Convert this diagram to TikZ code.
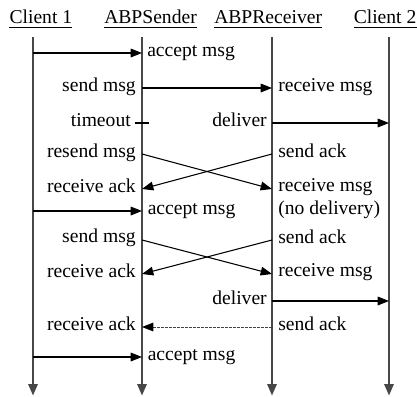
\documentclass[tikz,border=0pt]{standalone}
\usepackage{fontspec}
\setmainfont{Liberation Serif}
\newfontfamily\diagfont{Liberation Serif}
\usetikzlibrary{arrows.meta}
\begin{document}
\begin{tikzpicture}[x=0.75pt,y=-0.75pt,
  font=\diagfont\fontsize{14.7}{17}\selectfont,
  head/.style={inner sep=0pt,anchor=base west},
  underl/.style={line width=0.75pt},
  lifeline/.style={draw=black!72,line width=1.3pt,-{Triangle[length=8.5pt,width=7pt]}},
  msg/.style={draw=black,line width=0.8pt,-{Triangle[length=8.5pt,width=6.5pt]}},
  dotmsg/.style={draw=black!75,line width=0.7pt,dash pattern=on 0.5pt off 0.5pt,
    -{Triangle[length=8.5pt,width=6.5pt,color=black]}},
  tick/.style={draw=black,line width=0.8pt},
  lbl/.style={inner sep=0pt},
  lleft/.style={lbl,anchor=mid east},
  lright/.style={lbl,anchor=mid west}]
\useasboundingbox (0,0) rectangle (417,396);

% participant headings
\node[head] (h1) at (9.3,23.5) {Client 1};
\node[head] (h2) at (104,23.5) {ABPSender};
\node[head] (h3) at (214,23.5) {ABPReceiver};
\node[head] (h4) at (353.5,23.5) {Client 2};
\foreach \h in {h1,h2,h3,h4}
  \draw[underl] ([yshift=-2.7pt]\h.base west) -- ([yshift=-2.7pt]\h.base east);

% lifelines
\coordinate (c1t) at (33,37);   \coordinate (c1b) at (33,395.5);
\coordinate (st)  at (142,37);  \coordinate (sb)  at (142,395.5);
\coordinate (rt)  at (272,37);  \coordinate (rb)  at (272,395.5);
\coordinate (c2t) at (389,37);  \coordinate (c2b) at (389,395.5);
\draw[lifeline] (c1t) -- (c1b);
\draw[lifeline] (st) -- (sb);
\draw[lifeline] (rt) -- (rb);
\draw[lifeline] (c2t) -- (c2b);

% first message: accept, send, receive
\coordinate (a1c) at (33,53);   \coordinate (a1s) at (142,53);
\draw[msg] (a1c) -- (a1s);
\node[lright] (l1) at (147,53) {accept msg};

\coordinate (m1s) at (142,88);  \coordinate (m1r) at (272,88);
\draw[msg] (m1s) -- (m1r);
\node[lleft] (l2) at (136,88) {send msg};
\node[lright] (l3) at (278,88) {receive msg};

% timeout at the sender, delivery at the receiver
\coordinate (to1) at (135,123); \coordinate (to2) at (149,123);
\draw[tick] (to1) -- (to2);
\node[lleft] (l4) at (131,123) {timeout};
\coordinate (d1r) at (272,123); \coordinate (d1c) at (389,123);
\draw[msg] (d1r) -- (d1c);
\node[lleft] (l5) at (267,123) {deliver};

% retransmission crossing the acknowledgement
\coordinate (m2s) at (142,154); \coordinate (m2r) at (272,189);
\coordinate (k1r) at (272,154); \coordinate (k1s) at (142,189);
\draw[msg] (m2s) -- (m2r);
\draw[msg] (k1r) -- (k1s);
\node[lleft] (l6) at (136,154) {resend msg};
\node[lright] (l7) at (278,154) {send ack};
\node[lleft] (l8) at (136,189) {receive ack};
\node[lright] (l9) at (278,188.5) {receive msg};
\node[lright] (l10) at (278,211.5) {(no delivery)};

% second message
\coordinate (a2c) at (33,211);  \coordinate (a2s) at (142,211);
\draw[msg] (a2c) -- (a2s);
\node[lright] (l11) at (147.5,211) {accept msg};

\coordinate (m3s) at (142,240); \coordinate (m3r) at (272,274);
\coordinate (k2r) at (272,240); \coordinate (k2s) at (142,274);
\draw[msg] (m3s) -- (m3r);
\draw[msg] (k2r) -- (k2s);
\node[lleft] (l12) at (136,239) {send msg};
\node[lright] (l13) at (278,240) {send ack};
\node[lleft] (l14) at (136,274) {receive ack};
\node[lright] (l15) at (278,273.5) {receive msg};

\coordinate (d2r) at (272,301); \coordinate (d2c) at (389,301);
\draw[msg] (d2r) -- (d2c);
\node[lleft] (l16) at (267,301) {deliver};

\coordinate (k3r) at (272,327); \coordinate (k3s) at (142,327);
\draw[dotmsg] (k3r) -- (k3s);
\node[lright] (l17) at (278,327) {send ack};
\node[lleft] (l18) at (136,327) {receive ack};

% third message accepted
\coordinate (a3c) at (33,357);  \coordinate (a3s) at (142,357);
\draw[msg] (a3c) -- (a3s);
\node[lright] (l19) at (147.5,357) {accept msg};
\end{tikzpicture}
\end{document}
